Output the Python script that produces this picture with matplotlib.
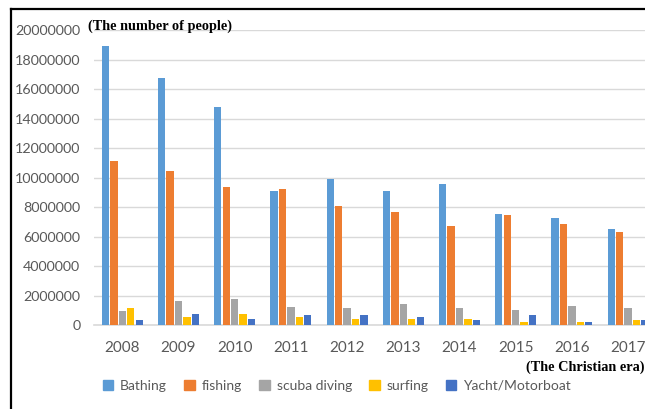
import matplotlib
matplotlib.use('Agg')
import matplotlib.pyplot as plt
from matplotlib.lines import Line2D
from matplotlib.patches import Patch
import numpy as np

years = ['2008', '2009', '2010', '2011', '2012', '2013', '2014', '2015', '2016', '2017']
bathing = [18900000, 16770000, 14760000, 9090000, 9880000, 9070000, 9550000, 7540000, 7250000, 6540000]
fishing = [11150000, 10450000, 9360000, 9250000, 8080000, 7650000, 6700000, 7470000, 6860000, 6320000]
scuba = [950000, 1650000, 1760000, 1240000, 1170000, 1460000, 1170000, 1060000, 1330000, 1170000]
surfing = [1190000, 560000, 770000, 560000, 450000, 450000, 450000, 250000, 250000, 380000]
yacht = [380000, 770000, 450000, 680000, 680000, 560000, 380000, 680000, 250000, 380000]

series = [('Bathing', bathing, '#5B9BD5'),
          ('fishing', fishing, '#ED7D31'),
          ('scuba diving', scuba, '#A5A5A5'),
          ('surfing', surfing, '#FFC000'),
          ('Yacht/Motorboat', yacht, '#4472C4')]

fig = plt.figure(figsize=(6.45, 4.09), dpi=100)
# the plot area runs past the right edge, as in the cropped original
ax = fig.add_axes([94.2 / 645, 83.7 / 409, 562 / 645, 295.3 / 409])

x = np.arange(len(years))
step = 0.15
width = 0.13
for i, (name, vals, col) in enumerate(series):
    ax.bar(x + (i - 2) * step, vals, width=width, color=col, label=name, zorder=3)

ax.set_xlim(-0.5, len(years) - 0.5)
ax.set_ylim(0, 20000000)
ax.set_yticks(np.arange(0, 20000001, 2000000))
ax.set_yticklabels([str(v) for v in range(0, 20000001, 2000000)])
ax.set_xticks(x)
ax.set_xticklabels(years)
ax.grid(axis='y', color='#D9D9D9', linewidth=1.0, zorder=0)
for s in ['top', 'right', 'left']:
    ax.spines[s].set_visible(False)
ax.spines['bottom'].set_color('#D9D9D9')
ax.spines['bottom'].set_linewidth(1.2)
ax.tick_params(axis='y', length=0, labelsize=10.3, labelcolor='#595959', pad=10)
ax.tick_params(axis='x', length=0, labelsize=11, labelcolor='#595959', pad=11)
for lab in ax.get_xticklabels() + ax.get_yticklabels():
    lab.set_family('Lato')

fig.text(88 / 645, 1 - 26 / 409, '(The number of people)', family='Liberation Serif',
         weight='bold', fontsize=10.3, ha='left', va='center')
fig.text(1.0, 1 - 367 / 409, '(The Christian era)', family='Liberation Serif',
         weight='bold', fontsize=10.3, ha='right', va='center')

handles = [Patch(color=c, label=n) for n, v, c in series]
leg = fig.legend(handles=handles, loc='center', bbox_to_anchor=(337 / 645, 1 - 386 / 409),
                 ncol=5, frameon=False, handlelength=0.75, handleheight=0.75,
                 handletextpad=0.5, columnspacing=1.25,
                 prop={'family': 'Lato', 'size': 10})
for t in leg.get_texts():
    t.set_color('#595959')

# frame of the original picture
fig.add_artist(Line2D([10.5 / 645, 10.5 / 645], [0, 1 - 9 / 409], color='black', lw=1.6,
                      transform=fig.transFigure))
fig.add_artist(Line2D([10.5 / 645, 1], [1 - 9 / 409, 1 - 9 / 409], color='black', lw=1.6,
                      transform=fig.transFigure))

fig.savefig('out.png', dpi=100)
